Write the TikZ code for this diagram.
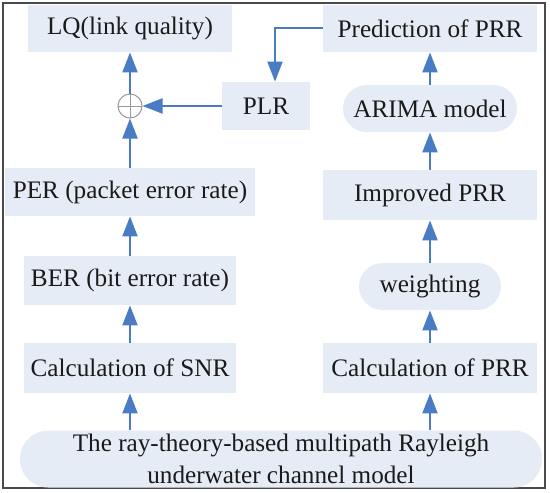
\documentclass[tikz,border=0pt]{standalone}
\usepackage{fontspec}
\setmainfont{Liberation Serif}
\usetikzlibrary{arrows.meta,calc}
\definecolor{boxfill}{HTML}{E6ECF5}
\definecolor{arrblue}{HTML}{4A7CC4}
\definecolor{framecol}{HTML}{4A4A4A}
\definecolor{txtcol}{HTML}{1A1A1A}
\begin{document}
\begin{tikzpicture}[x=0.5pt,y=-0.5pt,
  every node/.style={font=\fontsize{12.6pt}{16pt}\selectfont, text=txtcol, inner sep=0pt},
  sqbox/.style={fill=boxfill, draw=none},
  rdbox/.style={fill=boxfill, draw=none, rounded corners=11.75pt},
  oplus/.style={circle, draw=gray!80, line width=0.5pt, minimum size=12pt,
    path picture={\draw[gray!80, line width=0.5pt]
      (path picture bounding box.north) -- (path picture bounding box.south)
      (path picture bounding box.west) -- (path picture bounding box.east);}},
  arr/.style={draw=arrblue, line width=1pt, -{Triangle[length=10pt,width=7.5pt]}}]
\useasboundingbox (0,0) rectangle (550,492);
\draw[framecol, line width=0.8pt] (3,3) rectangle (545,488);

\node[sqbox, minimum width=102pt, minimum height=23.5pt] (lq) at (130,28.5) {LQ(link quality)};
\node[sqbox, minimum width=107pt, minimum height=23.5pt] (pred) at (430,28.5) {Prediction of PRR};
\node[sqbox, minimum width=44pt, minimum height=24pt] (plr) at (266,106) {PLR};
\node[rdbox, minimum width=87pt, minimum height=23.5pt] (arima) at (430,108.5) {ARIMA model};
\node[sqbox, minimum width=125pt, minimum height=24pt] (per) at (130,192) {PER (packet error rate)};
\node[sqbox, minimum width=107pt, minimum height=25pt] (imp) at (430,195) {Improved PRR};
\node[sqbox, minimum width=106pt, minimum height=24.5pt] (ber) at (130,280.5) {BER (bit error rate)};
\node[rdbox, minimum width=71pt, minimum height=23.5pt] (wt) at (430,286.5) {weighting};
\node[sqbox, minimum width=106pt, minimum height=25pt] (snr) at (130,368) {Calculation of SNR};
\node[sqbox, minimum width=107pt, minimum height=25pt] (cprr) at (430,368) {Calculation of PRR};
\node[rdbox, rounded corners=14pt, minimum width=261pt, minimum height=28.5pt, align=center] (ch) at (281,459)
  {The ray-theory-based multipath Rayleigh\\underwater channel model};
\node[oplus] (op) at (130,106) {};

% left column
\draw[arr] (ch.north -| snr.south) -- (snr.south);
\draw[arr] (snr.north) -- (ber.south);
\draw[arr] (ber.north) -- (per.south);
\draw[arr] (per.north) -- (op.south);
\draw[arr] (op.north) -- (lq.south);
\draw[arr] (plr.west) -- (op.east);
% right column
\draw[arr] (ch.north -| cprr.south) -- (cprr.south);
\draw[arr] (cprr.north) -- (wt.south);
\draw[arr] (wt.north) -- (imp.south);
\draw[arr] (imp.north) -- (arima.south);
\draw[arr] (arima.north) -- (pred.south);
\draw[arr] (pred.west) -| ($(plr.north)+(9,0)$);
\end{tikzpicture}
\end{document}
